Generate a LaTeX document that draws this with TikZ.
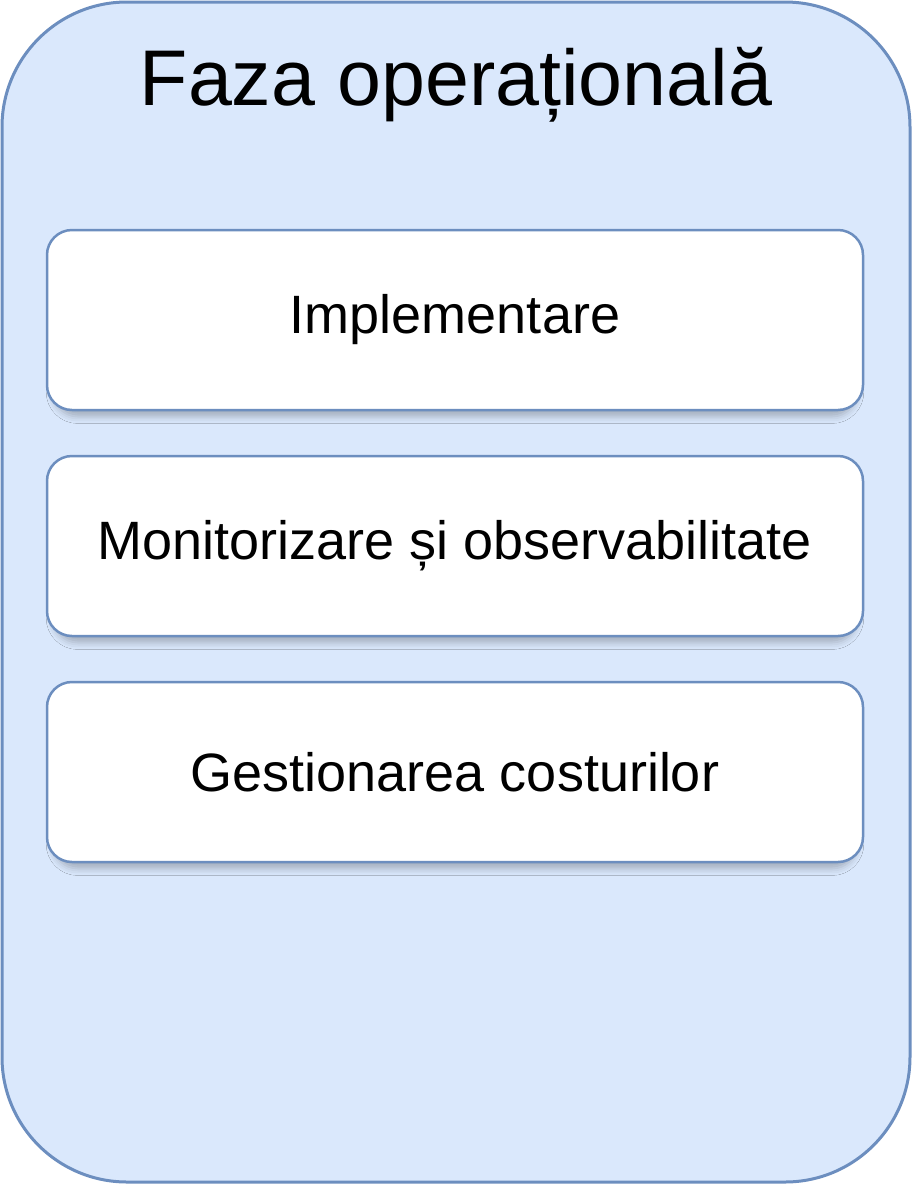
\documentclass[tikz,border=0pt]{standalone}
\usepackage{fontspec}
\setmainfont{Liberation Sans}
\usetikzlibrary{positioning,shadows.blur}

\definecolor{fazafill}{HTML}{DAE8FC}
\definecolor{fazaline}{HTML}{6C8EBF}

\tikzset{
    fazabox/.style={draw=fazaline, line width=3pt, fill=fazafill, rounded corners=125pt},
    pasbox/.style={draw=fazaline, line width=2.5pt, fill=white, rounded corners=25pt,
        minimum width=816pt, minimum height=180pt, inner sep=0pt,
        font=\fontsize{54}{60}\selectfont,
        blur shadow={shadow xshift=0pt, shadow yshift=-8pt, shadow scale=0.985,
            shadow blur radius=7pt, shadow opacity=25}}
}

\begin{document}
\begin{tikzpicture}[x=1pt, y=-1pt, node distance=43.5pt]
            \useasboundingbox (0,0) rectangle (912,1184);
            \draw[fazabox] (2,2) rectangle (910,1182);
            \node[anchor=base, font=\fontsize{79}{90}\selectfont] (titlu) at (456,105) {Faza operațională};
            \node[pasbox] (implementare) at (455,320) {Implementare};
            \node[pasbox, below=of implementare] (monitorizare) {Monitorizare și observabilitate};
            \node[pasbox, below=of monitorizare] (costuri) {Gestionarea costurilor};
        \end{tikzpicture}
\end{document}
